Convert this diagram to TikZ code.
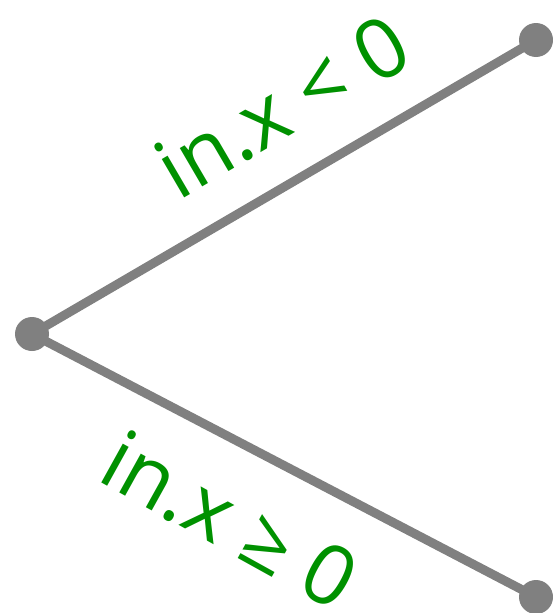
\documentclass[tikz,border=0pt]{standalone}
\usepackage{fontspec}
\setmainfont{Open Sans}
\definecolor{edgegray}{RGB}{128,128,128}
\definecolor{labgreen}{RGB}{0,145,0}
\begin{document}
\begin{tikzpicture}[x=1pt,y=-1pt,
  dot/.style={circle,fill=edgegray,inner sep=0pt,minimum size=34pt},
  edge/.style={draw=edgegray,line width=9pt},
  lab/.style={text=labgreen,font=\fontsize{83}{90}\selectfont,inner sep=0pt}]
\useasboundingbox (0,0) rectangle (553,613);
\node[dot] (l) at (32,334) {};
\node[dot] (t) at (536,40) {};
\node[dot] (b) at (536,597) {};
\draw[edge] (l.center) -- (t.center);
\draw[edge] (l.center) -- (b.center);
\node[lab,rotate=30.3] (lt) at (282,106) {in.x < 0};
\node[lab,rotate=-29] (lb) at (230,520) {in.x ≥ 0};
\end{tikzpicture}
\end{document}
